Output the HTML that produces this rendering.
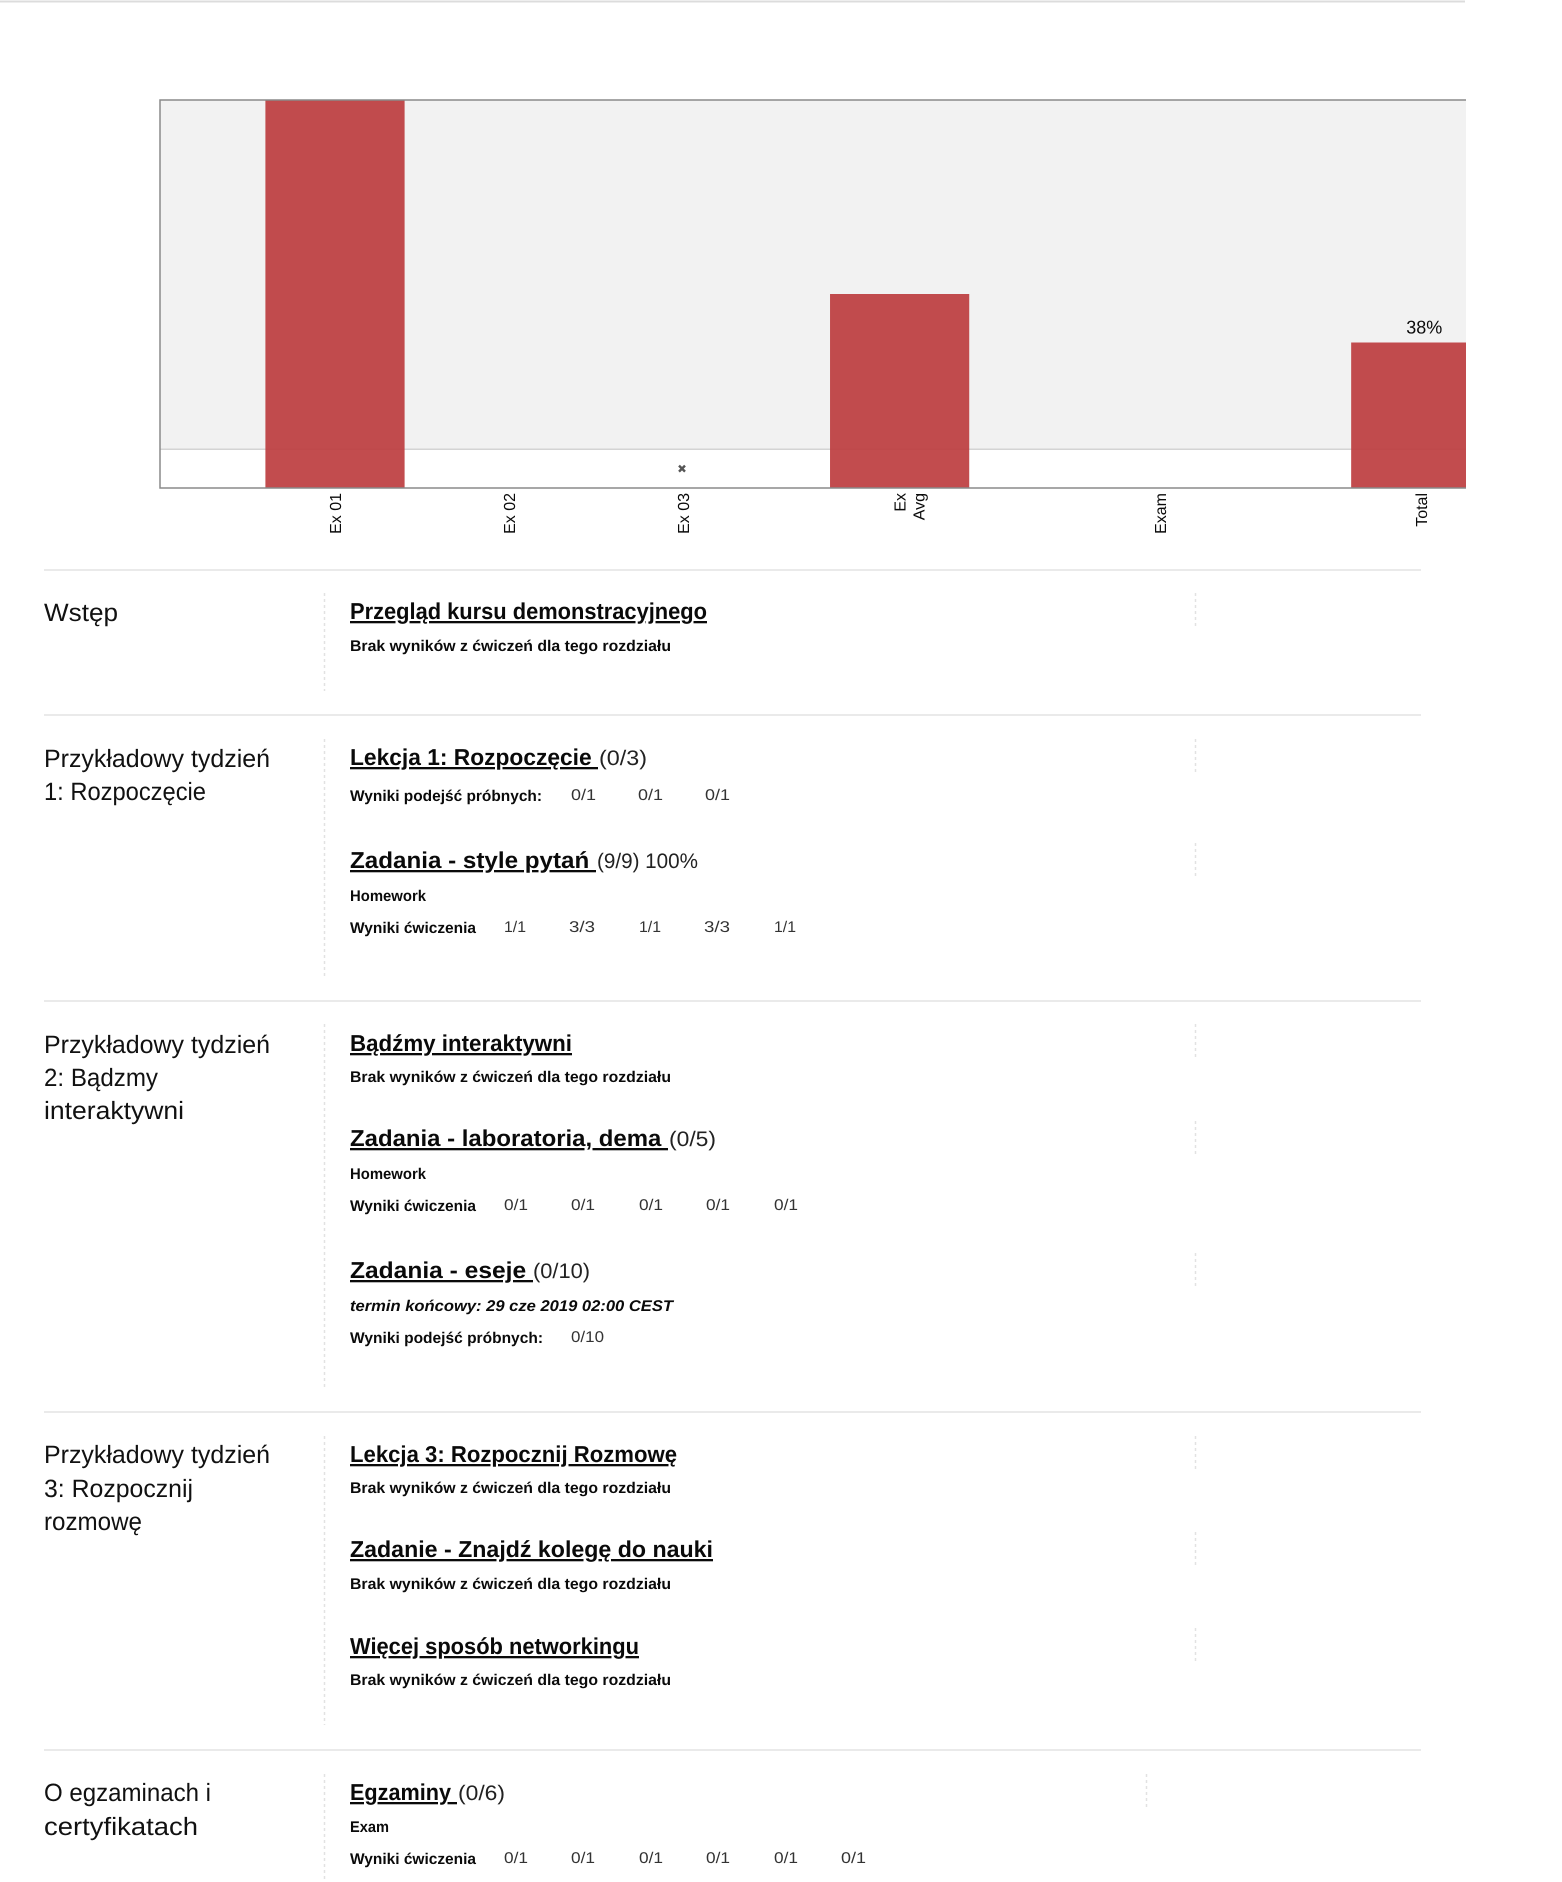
<!DOCTYPE html>
<html lang="pl">
<head>
<meta charset="utf-8">
<title>Postęp kursu</title>
<style>
html,body{margin:0;padding:0;background:#fff;width:1562px;height:1882px;overflow:hidden}
svg{display:block}
text{font-family:"Liberation Sans",Arial,sans-serif;fill:#0a0a0a;white-space:pre;text-rendering:geometricPrecision}
.h{font-size:25px;fill:#111}
.l{font-size:23px;font-weight:700;text-decoration:underline;cursor:pointer}
.g{font-size:21px;fill:#222}
.s{font-size:15.5px;font-weight:700}
.v{font-size:15.5px;fill:#333}
.i{font-size:15.5px;font-weight:700;font-style:italic}
.sep{stroke:#eaeaea;stroke-width:2}
.dv{stroke:#e2e2e2;stroke-width:1.5;stroke-dasharray:3 3}
</style>
</head>
<body>
<svg id="page" xmlns="http://www.w3.org/2000/svg" width="1562" height="1882" viewBox="0 0 1562 1882">
<line x1="0" y1="1.5" x2="1465" y2="1.5" stroke="#dcdcdc" stroke-width="2"/>

<g id="chart"></g>

<g>
<line class="sep" x1="44" x2="1421" y1="570" y2="570"/>
<line class="sep" x1="44" x2="1421" y1="715" y2="715"/>
<line class="sep" x1="44" x2="1421" y1="1001" y2="1001"/>
<line class="sep" x1="44" x2="1421" y1="1412" y2="1412"/>
<line class="sep" x1="44" x2="1421" y1="1750" y2="1750"/>
</g>

<g>
<line class="dv" x1="324.5" x2="324.5" y1="593" y2="691"/>
<line class="dv" x1="324.5" x2="324.5" y1="739" y2="976"/>
<line class="dv" x1="324.5" x2="324.5" y1="1024" y2="1387"/>
<line class="dv" x1="324.5" x2="324.5" y1="1436" y2="1725"/>
<line class="dv" x1="324.5" x2="324.5" y1="1774" y2="1882"/>
<line class="dv" x1="1195.5" x2="1195.5" y1="593" y2="626"/>
<line class="dv" x1="1195.5" x2="1195.5" y1="739" y2="772"/>
<line class="dv" x1="1195.5" x2="1195.5" y1="843" y2="876"/>
<line class="dv" x1="1195.5" x2="1195.5" y1="1024" y2="1057"/>
<line class="dv" x1="1195.5" x2="1195.5" y1="1121" y2="1154"/>
<line class="dv" x1="1195.5" x2="1195.5" y1="1253" y2="1286"/>
<line class="dv" x1="1195.5" x2="1195.5" y1="1436" y2="1469"/>
<line class="dv" x1="1195.5" x2="1195.5" y1="1532" y2="1565"/>
<line class="dv" x1="1195.5" x2="1195.5" y1="1628" y2="1661"/>
<line class="dv" x1="1146.5" x2="1146.5" y1="1774" y2="1807"/>
</g>

<g>
<text class="h" x="44" y="621" textLength="74" lengthAdjust="spacingAndGlyphs">Wstęp</text>
<text class="l" x="350" y="619" textLength="357" lengthAdjust="spacingAndGlyphs">Przegląd kursu demonstracyjnego</text>
<text class="s" x="350" y="651" textLength="321" lengthAdjust="spacingAndGlyphs">Brak wyników z ćwiczeń dla tego rozdziału</text>
</g>

<g>
<text class="h" x="44" y="767" textLength="226" lengthAdjust="spacingAndGlyphs">Przykładowy tydzień</text>
<text class="h" x="44" y="800" textLength="162" lengthAdjust="spacingAndGlyphs">1: Rozpoczęcie</text>
<text class="l" x="350" y="765" textLength="248" lengthAdjust="spacingAndGlyphs">Lekcja 1: Rozpoczęcie </text>
<text class="g" x="599" y="765" textLength="48" lengthAdjust="spacingAndGlyphs">(0/3)</text>
<text class="s" x="350" y="801" textLength="192" lengthAdjust="spacingAndGlyphs">Wyniki podejść próbnych:</text>
<text class="v" x="571" y="800" textLength="25" lengthAdjust="spacingAndGlyphs">0/1</text>
<text class="v" x="638" y="800" textLength="25" lengthAdjust="spacingAndGlyphs">0/1</text>
<text class="v" x="705" y="800" textLength="25" lengthAdjust="spacingAndGlyphs">0/1</text>
<text class="l" x="350" y="868" textLength="246" lengthAdjust="spacingAndGlyphs">Zadania - style pytań </text>
<text class="g" x="597" y="868" textLength="101" lengthAdjust="spacingAndGlyphs">(9/9) 100%</text>
<text class="s" x="350" y="901" textLength="76" lengthAdjust="spacingAndGlyphs">Homework</text>
<text class="s" x="350" y="933" textLength="126" lengthAdjust="spacingAndGlyphs">Wyniki ćwiczenia</text>
<text class="v" x="504" y="932" textLength="22" lengthAdjust="spacingAndGlyphs">1/1</text>
<text class="v" x="569" y="932" textLength="26" lengthAdjust="spacingAndGlyphs">3/3</text>
<text class="v" x="639" y="932" textLength="22" lengthAdjust="spacingAndGlyphs">1/1</text>
<text class="v" x="704" y="932" textLength="26" lengthAdjust="spacingAndGlyphs">3/3</text>
<text class="v" x="774" y="932" textLength="22" lengthAdjust="spacingAndGlyphs">1/1</text>
</g>

<g>
<text class="h" x="44" y="1053" textLength="226" lengthAdjust="spacingAndGlyphs">Przykładowy tydzień</text>
<text class="h" x="44" y="1086" textLength="114" lengthAdjust="spacingAndGlyphs">2: Bądzmy</text>
<text class="h" x="44" y="1119" textLength="140" lengthAdjust="spacingAndGlyphs">interaktywni</text>
<text class="l" x="350" y="1051" textLength="222" lengthAdjust="spacingAndGlyphs">Bądźmy interaktywni</text>
<text class="s" x="350" y="1082" textLength="321" lengthAdjust="spacingAndGlyphs">Brak wyników z ćwiczeń dla tego rozdziału</text>
<text class="l" x="350" y="1146" textLength="318" lengthAdjust="spacingAndGlyphs">Zadania - laboratoria, dema </text>
<text class="g" x="669" y="1146" textLength="47" lengthAdjust="spacingAndGlyphs">(0/5)</text>
<text class="s" x="350" y="1179" textLength="76" lengthAdjust="spacingAndGlyphs">Homework</text>
<text class="s" x="350" y="1211" textLength="126" lengthAdjust="spacingAndGlyphs">Wyniki ćwiczenia</text>
<text class="v" x="504" y="1210" textLength="24" lengthAdjust="spacingAndGlyphs">0/1</text>
<text class="v" x="571" y="1210" textLength="24" lengthAdjust="spacingAndGlyphs">0/1</text>
<text class="v" x="639" y="1210" textLength="24" lengthAdjust="spacingAndGlyphs">0/1</text>
<text class="v" x="706" y="1210" textLength="24" lengthAdjust="spacingAndGlyphs">0/1</text>
<text class="v" x="774" y="1210" textLength="24" lengthAdjust="spacingAndGlyphs">0/1</text>
<text class="l" x="350" y="1278" textLength="183" lengthAdjust="spacingAndGlyphs">Zadania - eseje </text>
<text class="g" x="533" y="1278" textLength="57" lengthAdjust="spacingAndGlyphs">(0/10)</text>
<text class="i" x="350" y="1311" textLength="323" lengthAdjust="spacingAndGlyphs">termin końcowy: 29 cze 2019 02:00 CEST</text>
<text class="s" x="350" y="1343" textLength="193" lengthAdjust="spacingAndGlyphs">Wyniki podejść próbnych:</text>
<text class="v" x="571" y="1342" textLength="33" lengthAdjust="spacingAndGlyphs">0/10</text>
</g>

<g>
<text class="h" x="44" y="1463" textLength="226" lengthAdjust="spacingAndGlyphs">Przykładowy tydzień</text>
<text class="h" x="44" y="1497" textLength="149" lengthAdjust="spacingAndGlyphs">3: Rozpocznij</text>
<text class="h" x="44" y="1530" textLength="98" lengthAdjust="spacingAndGlyphs">rozmowę</text>
<text class="l" x="350" y="1462" textLength="327" lengthAdjust="spacingAndGlyphs">Lekcja 3: Rozpocznij Rozmowę</text>
<text class="s" x="350" y="1493" textLength="321" lengthAdjust="spacingAndGlyphs">Brak wyników z ćwiczeń dla tego rozdziału</text>
<text class="l" x="350" y="1557" textLength="363" lengthAdjust="spacingAndGlyphs">Zadanie - Znajdź kolegę do nauki</text>
<text class="s" x="350" y="1589" textLength="321" lengthAdjust="spacingAndGlyphs">Brak wyników z ćwiczeń dla tego rozdziału</text>
<text class="l" x="350" y="1654" textLength="289" lengthAdjust="spacingAndGlyphs">Więcej sposób networkingu</text>
<text class="s" x="350" y="1685" textLength="321" lengthAdjust="spacingAndGlyphs">Brak wyników z ćwiczeń dla tego rozdziału</text>
</g>

<g>
<text class="h" x="44" y="1801" textLength="167" lengthAdjust="spacingAndGlyphs">O egzaminach i</text>
<text class="h" x="44" y="1835" textLength="154" lengthAdjust="spacingAndGlyphs">certyfikatach</text>
<text class="l" x="350" y="1800" textLength="107" lengthAdjust="spacingAndGlyphs">Egzaminy </text>
<text class="g" x="458" y="1800" textLength="47" lengthAdjust="spacingAndGlyphs">(0/6)</text>
<text class="s" x="350" y="1832" textLength="39" lengthAdjust="spacingAndGlyphs">Exam</text>
<text class="s" x="350" y="1864" textLength="126" lengthAdjust="spacingAndGlyphs">Wyniki ćwiczenia</text>
<text class="v" x="504" y="1863" textLength="24" lengthAdjust="spacingAndGlyphs">0/1</text>
<text class="v" x="571" y="1863" textLength="24" lengthAdjust="spacingAndGlyphs">0/1</text>
<text class="v" x="639" y="1863" textLength="24" lengthAdjust="spacingAndGlyphs">0/1</text>
<text class="v" x="706" y="1863" textLength="24" lengthAdjust="spacingAndGlyphs">0/1</text>
<text class="v" x="774" y="1863" textLength="24" lengthAdjust="spacingAndGlyphs">0/1</text>
<text class="v" x="841" y="1863" textLength="25" lengthAdjust="spacingAndGlyphs">0/1</text>
</g>
</svg>

<script>
const categories = [["Ex 01"], ["Ex 02"], ["Ex 03"], ["Ex", "Avg"], ["Exam"], ["Total"]];
const tickSlots = [1, 2, 3, 4.245, 5.74, 7.24];
const barValues = [100, 0, 0, 50, 0, 37.5];
const barLabels = ["", "", "", "", "", "38%"];
const droppedSlots = [3];
const droppedValues = [5];
const passCutoff = [10];

const NS = "http://www.w3.org/2000/svg";
const chart = document.getElementById("chart");
const plot = {left: 160, right: 1466, top: 100, bottom: 488};
const xOrigin = 161;
const slotWidth = 174;
const barWidth = 0.8;
const xScale = v => xOrigin + slotWidth * v;
const yScale = v => plot.bottom - (plot.bottom - plot.top) * v / 100;

function make(tag, attrs, parent) {
  const el = document.createElementNS(NS, tag);
  for (const k in attrs) el.setAttribute(k, attrs[k]);
  (parent || chart).appendChild(el);
  return el;
}

const defs = make("defs", {});
const clip = make("clipPath", {id: "plot-clip"}, defs);
make("rect", {x: plot.left, y: plot.top, width: plot.right - plot.left, height: plot.bottom - plot.top}, clip);

const band = make("rect", {x: plot.left, y: plot.top, width: plot.right - plot.left, height: yScale(passCutoff[0]) - plot.top, fill: "#f2f2f2"});



const cutoff = make("line", {x1: plot.left, x2: plot.right, y1: yScale(passCutoff[0]), y2: yScale(passCutoff[0]), stroke: "#d4d4d4", "stroke-width": 1.5});



const barsGroup = make("g", {"clip-path": "url(#plot-clip)"});



barValues.forEach((value, i) => {
  if (value <= 0) return;
  const cx = xScale(tickSlots[i]);
  const w = barWidth * slotWidth;
  const bar = make("rect", {x: cx - w / 2, y: yScale(value), width: w, height: plot.bottom - yScale(value), fill: "#bd3d3f", "fill-opacity": 0.92}, barsGroup);
  
  
  if (barLabels[i]) {
    const label = make("text", {x: cx + 3.5, y: yScale(value) - 9, "text-anchor": "middle", "font-size": 18.5, textLength: 36, lengthAdjust: "spacingAndGlyphs"});
    label.textContent = barLabels[i];
    
    
  }
});

droppedSlots.forEach((slot, i) => {
  const cx = xScale(slot) - 1, cy = yScale(droppedValues[i]), r = 3;
  const mark = make("path", {d: `M${cx - r} ${cy - r}L${cx + r} ${cy + r}M${cx + r} ${cy - r}L${cx - r} ${cy + r}`, stroke: "#555", "stroke-width": 2.4, fill: "none"});
  
  
});

const frame = make("path", {d: `M${plot.right} ${plot.top}H${plot.left}V${plot.bottom}H${plot.right}`, fill: "none", stroke: "#8a8a8a", "stroke-width": 1.5});



categories.forEach((lines, i) => {
  const cx = xScale(tickSlots[i]);
  lines.forEach((line, j) => {
    const px = cx + 6 + j * 19;
    const t = make("text", {transform: `translate(${px} 493) rotate(-90)`, "text-anchor": "end", "font-size": 16, fill: "#222"});
    t.textContent = line;
    
    
  });
});
</script>
</body>
</html>
